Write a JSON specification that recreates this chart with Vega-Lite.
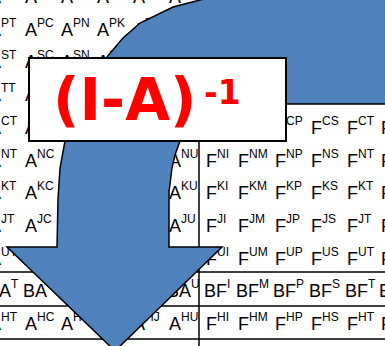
{
  "$schema": "https://vega.github.io/schema/vega-lite/v6.json",
  "width": 385,
  "height": 346,
  "autosize": {"type": "none"},
  "padding": 0,
  "background": "white",
  "config": {"view": {"stroke": null}},
  "datasets": {
    "cells": [
      {"r":0,"c":0,"b":"A","s":"IT"},{"r":0,"c":1,"b":"A","s":"IC"},{"r":0,"c":2,"b":"A","s":"IN"},{"r":0,"c":3,"b":"A","s":"IK"},{"r":0,"c":4,"b":"A","s":"IJ"},{"r":0,"c":5,"b":"A","s":"IU"},
      {"r":1,"c":0,"b":"A","s":"PT"},{"r":1,"c":1,"b":"A","s":"PC"},{"r":1,"c":2,"b":"A","s":"PN"},{"r":1,"c":3,"b":"A","s":"PK"},{"r":1,"c":4,"b":"A","s":"PJ"},{"r":1,"c":5,"b":"A","s":"PU"},
      {"r":2,"c":0,"b":"A","s":"ST"},{"r":2,"c":1,"b":"A","s":"SC"},{"r":2,"c":2,"b":"A","s":"SN"},{"r":2,"c":3,"b":"A","s":"SK"},{"r":2,"c":4,"b":"A","s":"SJ"},{"r":2,"c":5,"b":"A","s":"SU"},
      {"r":3,"c":0,"b":"A","s":"TT"},{"r":3,"c":1,"b":"A","s":"TC"},{"r":3,"c":2,"b":"A","s":"TN"},{"r":3,"c":3,"b":"A","s":"TK"},{"r":3,"c":4,"b":"A","s":"TJ"},{"r":3,"c":5,"b":"A","s":"TU"},
      {"r":4,"c":0,"b":"A","s":"CT"},{"r":4,"c":1,"b":"A","s":"CC"},{"r":4,"c":2,"b":"A","s":"CN"},{"r":4,"c":3,"b":"A","s":"CK"},{"r":4,"c":4,"b":"A","s":"CJ"},{"r":4,"c":5,"b":"A","s":"CU"},
      {"r":5,"c":0,"b":"A","s":"NT"},{"r":5,"c":1,"b":"A","s":"NC"},{"r":5,"c":2,"b":"A","s":"NN"},{"r":5,"c":3,"b":"A","s":"NK"},{"r":5,"c":4,"b":"A","s":"NJ"},{"r":5,"c":5,"b":"A","s":"NU"},
      {"r":6,"c":0,"b":"A","s":"KT"},{"r":6,"c":1,"b":"A","s":"KC"},{"r":6,"c":2,"b":"A","s":"KN"},{"r":6,"c":3,"b":"A","s":"KK"},{"r":6,"c":4,"b":"A","s":"KJ"},{"r":6,"c":5,"b":"A","s":"KU"},
      {"r":7,"c":0,"b":"A","s":"JT"},{"r":7,"c":1,"b":"A","s":"JC"},{"r":7,"c":2,"b":"A","s":"JN"},{"r":7,"c":3,"b":"A","s":"JK"},{"r":7,"c":4,"b":"A","s":"JJ"},{"r":7,"c":5,"b":"A","s":"JU"},
      {"r":8,"c":0,"b":"A","s":"UT"},{"r":8,"c":1,"b":"A","s":"UC"},{"r":8,"c":2,"b":"A","s":"UN"},{"r":8,"c":3,"b":"A","s":"UK"},{"r":8,"c":4,"b":"A","s":"UJ"},{"r":8,"c":5,"b":"A","s":"UU"},
      {"r":9,"c":0,"b":"BA","s":"T"},{"r":9,"c":1,"b":"BA","s":"C"},{"r":9,"c":2,"b":"BA","s":"N"},{"r":9,"c":3,"b":"BA","s":"K"},{"r":9,"c":4,"b":"BA","s":"J"},{"r":9,"c":5,"b":"BA","s":"U"},
      {"r":10,"c":0,"b":"A","s":"HT"},{"r":10,"c":1,"b":"A","s":"HC"},{"r":10,"c":2,"b":"A","s":"HN"},{"r":10,"c":3,"b":"A","s":"HK"},{"r":10,"c":4,"b":"A","s":"HJ"},{"r":10,"c":5,"b":"A","s":"HU"},
      {"r":0,"c":6.0,"b":"F","s":"II"},{"r":0,"c":6.889,"b":"F","s":"IM"},{"r":0,"c":7.917,"b":"F","s":"IP"},{"r":0,"c":8.917,"b":"F","s":"IS"},{"r":0,"c":9.917,"b":"F","s":"IT"},{"r":0,"c":10.861,"b":"F","s":"IU"},
      {"r":1,"c":6.0,"b":"F","s":"PI"},{"r":1,"c":6.889,"b":"F","s":"PM"},{"r":1,"c":7.917,"b":"F","s":"PP"},{"r":1,"c":8.917,"b":"F","s":"PS"},{"r":1,"c":9.917,"b":"F","s":"PT"},{"r":1,"c":10.861,"b":"F","s":"PU"},
      {"r":2,"c":6.0,"b":"F","s":"SI"},{"r":2,"c":6.889,"b":"F","s":"SM"},{"r":2,"c":7.917,"b":"F","s":"SP"},{"r":2,"c":8.917,"b":"F","s":"SS"},{"r":2,"c":9.917,"b":"F","s":"ST"},{"r":2,"c":10.861,"b":"F","s":"SU"},
      {"r":3,"c":6.0,"b":"F","s":"TI"},{"r":3,"c":6.889,"b":"F","s":"TM"},{"r":3,"c":7.917,"b":"F","s":"TP"},{"r":3,"c":8.917,"b":"F","s":"TS"},{"r":3,"c":9.917,"b":"F","s":"TT"},{"r":3,"c":10.861,"b":"F","s":"TU"},
      {"r":4,"c":6.0,"b":"F","s":"CI"},{"r":4,"c":6.889,"b":"F","s":"CM"},{"r":4,"c":7.917,"b":"F","s":"CP"},{"r":4,"c":8.917,"b":"F","s":"CS"},{"r":4,"c":9.917,"b":"F","s":"CT"},{"r":4,"c":10.861,"b":"F","s":"CU"},
      {"r":5,"c":6.0,"b":"F","s":"NI"},{"r":5,"c":6.889,"b":"F","s":"NM"},{"r":5,"c":7.917,"b":"F","s":"NP"},{"r":5,"c":8.917,"b":"F","s":"NS"},{"r":5,"c":9.917,"b":"F","s":"NT"},{"r":5,"c":10.861,"b":"F","s":"NU"},
      {"r":6,"c":6.0,"b":"F","s":"KI"},{"r":6,"c":6.889,"b":"F","s":"KM"},{"r":6,"c":7.917,"b":"F","s":"KP"},{"r":6,"c":8.917,"b":"F","s":"KS"},{"r":6,"c":9.917,"b":"F","s":"KT"},{"r":6,"c":10.861,"b":"F","s":"KU"},
      {"r":7,"c":6.0,"b":"F","s":"JI"},{"r":7,"c":6.889,"b":"F","s":"JM"},{"r":7,"c":7.917,"b":"F","s":"JP"},{"r":7,"c":8.917,"b":"F","s":"JS"},{"r":7,"c":9.917,"b":"F","s":"JT"},{"r":7,"c":10.861,"b":"F","s":"JU"},
      {"r":8,"c":6.0,"b":"F","s":"UI"},{"r":8,"c":6.889,"b":"F","s":"UM"},{"r":8,"c":7.917,"b":"F","s":"UP"},{"r":8,"c":8.917,"b":"F","s":"US"},{"r":8,"c":9.917,"b":"F","s":"UT"},{"r":8,"c":10.861,"b":"F","s":"UU"},
      {"r":9,"c":6.0,"b":"BF","s":"I"},{"r":9,"c":6.889,"b":"BF","s":"M"},{"r":9,"c":7.917,"b":"BF","s":"P"},{"r":9,"c":8.917,"b":"BF","s":"S"},{"r":9,"c":9.917,"b":"BF","s":"T"},{"r":9,"c":10.861,"b":"BF","s":"U"},
      {"r":10,"c":6.0,"b":"F","s":"HI"},{"r":10,"c":6.889,"b":"F","s":"HM"},{"r":10,"c":7.917,"b":"F","s":"HP"},{"r":10,"c":8.917,"b":"F","s":"HS"},{"r":10,"c":9.917,"b":"F","s":"HT"},{"r":10,"c":10.861,"b":"F","s":"HU"}
    ],
    "arrow": [
      {"i":1,"c":3.167,"r":10.642},
      {"i":2,"c":0.167,"r":7.462},
      {"i":3,"c":1.556,"r":7.462},
      {"i":4,"c":1.583,"r":6.024},
      {"i":5,"c":1.639,"r":5.046},
      {"i":6,"c":1.778,"r":4.22},
      {"i":7,"c":2.194,"r":2.813},
      {"i":8,"c":2.944,"r":1.651},
      {"i":9,"c":3.389,"r":1.07},
      {"i":10,"c":3.861,"r":0.612},
      {"i":11,"c":4.778,"r":0.122},
      {"i":12,"c":5.528,"r":-0.092},
      {"i":13,"c":6.639,"r":-0.398},
      {"i":14,"c":10.944,"r":-0.856},
      {"i":15,"c":10.944,"r":3.089},
      {"i":16,"c":7.917,"r":3.089},
      {"i":17,"c":6.917,"r":3.15},
      {"i":18,"c":5.944,"r":3.486},
      {"i":19,"c":5.25,"r":3.945},
      {"i":20,"c":4.972,"r":4.22},
      {"i":21,"c":4.833,"r":4.648},
      {"i":22,"c":4.75,"r":5.046},
      {"i":23,"c":4.667,"r":5.78},
      {"i":24,"c":4.667,"r":7.462},
      {"i":25,"c":6.139,"r":7.462}
    ]
  },
  "layer": [
    {
      "data": {"values": [{"r": 8.226}, {"r": 9.266}, {"r": 10.275}]},
      "mark": {"type": "rule", "color": "#000000", "strokeWidth": 1.5, "clip": true},
      "encoding": {
        "y": {"field": "r", "type": "quantitative", "scale": {"domain": [-0.0917, 10.489], "reverse": true, "nice": false, "zero": false}, "axis": null}
      }
    },
    {
      "data": {"values": [{"c": 5.5, "r": 4.22, "r2": 10.6}]},
      "mark": {"type": "rule", "color": "#000000", "strokeWidth": 1.5, "clip": true},
      "encoding": {
        "x": {"field": "c", "type": "quantitative", "scale": {"domain": [-0.0278, 10.667], "nice": false, "zero": false}, "axis": null},
        "y": {"field": "r", "type": "quantitative", "scale": {"domain": [-0.0917, 10.489], "reverse": true, "nice": false, "zero": false}, "axis": null},
        "y2": {"field": "r2"}
      }
    },
    {
      "data": {"name": "cells"},
      "transform": [{"filter": "datum.r != 9"}],
      "mark": {"type": "text", "align": "right", "baseline": "alphabetic", "font": "Liberation Sans", "fontSize": 18, "color": "#000000", "clip": true},
      "encoding": {
        "x": {"field": "c", "type": "quantitative", "scale": {"domain": [-0.0278, 10.667], "nice": false, "zero": false}, "axis": null},
        "y": {"field": "r", "type": "quantitative", "scale": {"domain": [-0.0917, 10.489], "reverse": true, "nice": false, "zero": false}, "axis": null},
        "text": {"field": "b"}
      }
    },
    {
      "data": {"name": "cells"},
      "transform": [{"filter": "datum.r != 9"}],
      "mark": {"type": "text", "align": "left", "baseline": "alphabetic", "dy": -9, "font": "Liberation Sans", "fontSize": 12, "color": "#000000", "clip": true},
      "encoding": {
        "x": {"field": "c", "type": "quantitative", "scale": {"domain": [-0.0278, 10.667], "nice": false, "zero": false}, "axis": null},
        "y": {"field": "r", "type": "quantitative", "scale": {"domain": [-0.0917, 10.489], "reverse": true, "nice": false, "zero": false}, "axis": null},
        "text": {"field": "s"}
      }
    },
    {
      "data": {"name": "cells"},
      "transform": [{"filter": "datum.r == 9"}],
      "mark": {"type": "text", "align": "right", "baseline": "alphabetic", "dx": 10, "font": "Liberation Sans", "fontSize": 18, "color": "#000000", "clip": true},
      "encoding": {
        "x": {"field": "c", "type": "quantitative", "scale": {"domain": [-0.0278, 10.667], "nice": false, "zero": false}, "axis": null},
        "y": {"field": "r", "type": "quantitative", "scale": {"domain": [-0.0917, 10.489], "reverse": true, "nice": false, "zero": false}, "axis": null},
        "text": {"field": "b"}
      }
    },
    {
      "data": {"name": "cells"},
      "transform": [{"filter": "datum.r == 9"}],
      "mark": {"type": "text", "align": "left", "baseline": "alphabetic", "dx": 10, "dy": -9, "font": "Liberation Sans", "fontSize": 12, "color": "#000000", "clip": true},
      "encoding": {
        "x": {"field": "c", "type": "quantitative", "scale": {"domain": [-0.0278, 10.667], "nice": false, "zero": false}, "axis": null},
        "y": {"field": "r", "type": "quantitative", "scale": {"domain": [-0.0917, 10.489], "reverse": true, "nice": false, "zero": false}, "axis": null},
        "text": {"field": "s"}
      }
    },
    {
      "data": {"name": "arrow"},
      "mark": {"type": "line", "interpolate": "linear-closed", "fill": "#4F81BD", "stroke": "#000000", "strokeWidth": 1.5, "strokeJoin": "miter", "clip": true},
      "encoding": {
        "x": {"field": "c", "type": "quantitative", "scale": {"domain": [-0.0278, 10.667], "nice": false, "zero": false}, "axis": null},
        "y": {"field": "r", "type": "quantitative", "scale": {"domain": [-0.0917, 10.489], "reverse": true, "nice": false, "zero": false}, "axis": null},
        "order": {"field": "i", "type": "quantitative"}
      }
    },
    {
      "data": {"values": [{"c": 0.778, "c2": 7.917, "r": 1.682, "r2": 4.22}]},
      "mark": {"type": "rect", "fill": "#FFFFFF", "stroke": "#000000", "strokeWidth": 2, "clip": true},
      "encoding": {
        "x": {"field": "c", "type": "quantitative", "scale": {"domain": [-0.0278, 10.667], "nice": false, "zero": false}, "axis": null},
        "x2": {"field": "c2"},
        "y": {"field": "r", "type": "quantitative", "scale": {"domain": [-0.0917, 10.489], "reverse": true, "nice": false, "zero": false}, "axis": null},
        "y2": {"field": "r2"}
      }
    },
    {
      "data": {"values": [{"c": 1.444, "r": 3.578, "t": "(I-A)", "size": "big"}, {"c": 5.639, "r": 3.089, "t": "-1", "size": "sup"}]},
      "mark": {"type": "text", "align": "left", "baseline": "alphabetic", "font": "DejaVu Sans", "fontWeight": "bold", "color": "#FF0000", "clip": true},
      "encoding": {
        "x": {"field": "c", "type": "quantitative", "scale": {"domain": [-0.0278, 10.667], "nice": false, "zero": false}, "axis": null},
        "y": {"field": "r", "type": "quantitative", "scale": {"domain": [-0.0917, 10.489], "reverse": true, "nice": false, "zero": false}, "axis": null},
        "text": {"field": "t"},
        "size": {"field": "size", "type": "nominal", "scale": {"domain": ["big", "sup"], "range": [58, 33]}, "legend": null}
      }
    }
  ]
}
